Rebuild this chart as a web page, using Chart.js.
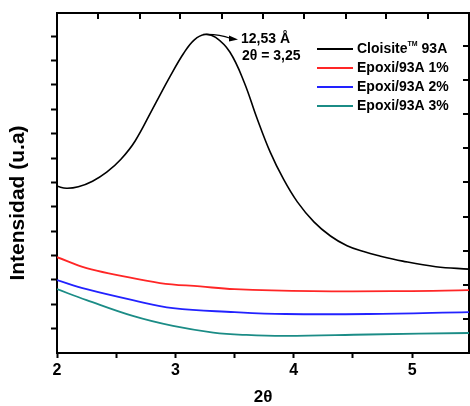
<!DOCTYPE html>
<html lang="es">
<head>
    <meta charset="UTF-8">
    <title>DRX Epoxi/93A</title>
    <script src="https://cdn.jsdelivr.net/npm/chart.js"></script>
    <style>
        body {
            margin: 0;
            padding: 0;
            background: white;
        }

        .chart-container {
            width: 470px;
            height: 406px;
        }
    </style>
</head>
<body>

    <div class="chart-container">
        <canvas id="drxChart"></canvas>
    </div>

    <script>
        // 2 theta positions and intensities
        const cloisiteX = [2.00, 2.08, 2.18, 2.30, 2.42, 2.54, 2.66, 2.81, 2.96, 3.07, 3.16, 3.25, 3.34, 3.46, 3.58, 3.69, 3.80, 3.91, 4.03, 4.17, 4.31, 4.45, 4.59, 4.71, 4.92, 5.20, 5.48];
        const cloisiteY = [6.84, 6.76, 6.82, 7.05, 7.42, 7.95, 8.70, 10.04, 11.39, 12.30, 12.85, 13.07, 12.95, 12.35, 11.12, 9.62, 8.25, 7.16, 6.20, 5.38, 4.80, 4.40, 4.16, 4.00, 3.77, 3.54, 3.44];

        const epoxi1X = [2.00, 2.25, 2.51, 2.87, 3.21, 3.50, 4.16, 4.92, 5.48];
        const epoxi1Y = [3.93, 3.48, 3.20, 2.87, 2.73, 2.62, 2.54, 2.54, 2.58];

        const epoxi2X = [2.00, 2.25, 2.64, 2.98, 3.50, 3.93, 4.63, 5.48];
        const epoxi2Y = [2.99, 2.62, 2.17, 1.84, 1.68, 1.60, 1.60, 1.68];

        const epoxi3X = [2.00, 2.25, 2.64, 2.98, 3.32, 3.60, 3.93, 4.63, 5.48];
        const epoxi3Y = [2.62, 2.17, 1.52, 1.11, 0.84, 0.74, 0.70, 0.76, 0.82];

        const seriesNames = ['Cloisite™ 93A', 'Epoxi/93A 1%', 'Epoxi/93A 2%', 'Epoxi/93A 3%'];
        const seriesColors = ['#000000', '#ff2626', '#2222ff', '#1b8c86'];

        // axis ticks
        const xTicks = [2, 2.5, 3, 3.5, 4, 4.5, 5];
        const topTicks = [2.35, 2.70, 3.04, 3.39, 3.74, 4.09, 4.44, 4.78, 5.13];
        const yTicks = [1, 2, 3, 4, 5, 6, 7, 8, 9, 10, 11, 12, 13];
        const rightTicks = [1.4, 2.8, 4.2, 5.6, 7.0, 8.4, 9.8, 11.2, 12.6];

        const xMin = 2, xMax = 5.48;
        const yMin = 0, yMax = 13.95;

        // peak annotation
        const peakAngle = 3.25;
        const peakIntensity = 13.07;
        const peakText = ['12,53 Å', '2θ = 3,25'];
        const yTitle = 'Intensidad (u.a)';

        const toPoints = (xs, ys) => xs.map((x, i) => ({ x: x, y: ys[i] }));

        const allSeries = [
            toPoints(cloisiteX, cloisiteY),
            toPoints(epoxi1X, epoxi1Y),
            toPoints(epoxi2X, epoxi2Y),
            toPoints(epoxi3X, epoxi3Y)
        ];

        const setTicks = (list) => (axis) => { axis.ticks = list.map(v => ({ value: v })); };

        const FONT = '"Liberation Sans", Arial, sans-serif';

        // legend, inner ticks, y title and peak label
        const extras = {
            id: 'extras',
            afterDraw(chart) {
                const c = chart.ctx;
                const xs = chart.scales.x;
                const ys = chart.scales.y;
                const area = chart.chartArea;
                c.save();
                c.setLineDash([]);
                c.globalAlpha = 1;

                // inward ticks on top and right frame
                c.strokeStyle = '#000000';
                c.lineWidth = 2;
                topTicks.forEach(v => {
                    const x = Math.round(xs.getPixelForValue(v));
                    c.beginPath();
                    c.moveTo(x, area.top);
                    c.lineTo(x, area.top + 6);
                    c.stroke();
                });
                rightTicks.forEach(v => {
                    const y = Math.round(ys.getPixelForValue(v));
                    c.beginPath();
                    c.moveTo(area.right, y);
                    c.lineTo(area.right - 6, y);
                    c.stroke();
                });

                // legend
                c.textBaseline = 'middle';
                c.textAlign = 'left';
                chart.data.datasets.forEach((ds, i) => {
                    const yy = 49 + i * 19;
                    c.strokeStyle = ds.borderColor;
                    c.lineWidth = 2;
                    c.beginPath();
                    c.moveTo(317, yy);
                    c.lineTo(353, yy);
                    c.stroke();
                    c.fillStyle = '#000';
                    const parts = ds.label.split('™');
                    c.font = 'bold 14px ' + FONT;
                    let x = 357;
                    c.fillText(parts[0], x, yy);
                    if (parts.length > 1) {
                        x += c.measureText(parts[0]).width;
                        c.font = 'bold 7px ' + FONT;
                        c.fillText('TM', x, yy - 5);
                        x += c.measureText('TM').width;
                        c.font = 'bold 14px ' + FONT;
                        c.fillText(parts[1], x, yy);
                    }
                });

                // peak label with arrow
                const px = xs.getPixelForValue(peakAngle);
                const py = ys.getPixelForValue(peakIntensity);
                c.strokeStyle = '#000';
                c.lineWidth = 1.2;
                c.beginPath();
                c.moveTo(px - 2, py);
                c.quadraticCurveTo(px + 12, py - 1, px + 26, py + 4);
                c.stroke();
                c.beginPath();
                c.moveTo(px + 33, py + 5);
                c.lineTo(px + 24, py + 1);
                c.lineTo(px + 24, py + 7);
                c.closePath();
                c.fillStyle = '#000';
                c.fill();
                c.font = 'bold 14px ' + FONT;
                c.fillText(peakText[0], px + 36, py + 5);
                c.fillText(peakText[1], px + 37, py + 22);

                // y axis title
                c.translate(18, 203);
                c.rotate(-Math.PI / 2);
                c.textAlign = 'center';
                c.font = 'bold 21px ' + FONT;
                c.fillText(yTitle, 0, 0);
                c.restore();
            }
        };

        const ctx = document.getElementById('drxChart').getContext('2d');

        new Chart(ctx, {
            type: 'line',
            data: {
                datasets: allSeries.map((pts, i) => ({
                    label: seriesNames[i],
                    data: pts,
                    borderColor: seriesColors[i],
                    borderWidth: i === 0 ? 1.6 : 1.8,
                    pointRadius: 0,
                    tension: 0.4,
                    fill: false
                }))
            },
            options: {
                responsive: true,
                maintainAspectRatio: false,
                animation: false,
                layout: { padding: 0 },
                plugins: {
                    legend: { display: false },
                    tooltip: { enabled: false }
                },
                scales: {
                    x: {
                        type: 'linear',
                        position: 'bottom',
                        min: xMin,
                        max: xMax,
                        afterBuildTicks: setTicks(xTicks),
                        afterFit: (axis) => { axis.height = 53; },
                        border: { display: true, color: '#000', width: 2 },
                        grid: { drawOnChartArea: false, drawTicks: true, tickLength: 5, tickWidth: 2, color: '#000' },
                        ticks: {
                            color: '#000',
                            padding: 3,
                            maxRotation: 0,
                            font: { family: 'Liberation Sans', size: 16, weight: 'bold' },
                            callback: (v) => Number.isInteger(v) ? v : ''
                        },
                        title: {
                            display: true,
                            text: '2θ',
                            color: '#000',
                            padding: { top: 0, bottom: 0 },
                            font: { family: 'Liberation Sans', size: 17, weight: 'bold', lineHeight: 1 }
                        }
                    },
                    xTop: {
                        type: 'linear',
                        position: 'top',
                        min: xMin,
                        max: xMax,
                        afterFit: (axis) => { axis.height = 13; },
                        border: { display: true, color: '#000', width: 2 },
                        grid: { display: false },
                        ticks: { display: false }
                    },
                    y: {
                        type: 'linear',
                        position: 'left',
                        min: yMin,
                        max: yMax,
                        afterBuildTicks: setTicks(yTicks),
                        afterFit: (axis) => { axis.width = 57; },
                        border: { display: true, color: '#000', width: 2 },
                        grid: { drawOnChartArea: false, drawTicks: true, tickLength: 6, tickWidth: 2, color: '#000' },
                        ticks: { display: false }
                    },
                    yRight: {
                        type: 'linear',
                        position: 'right',
                        min: yMin,
                        max: yMax,
                        afterFit: (axis) => { axis.width = 1; },
                        border: { display: true, color: '#000', width: 2 },
                        grid: { display: false },
                        ticks: { display: false }
                    }
                }
            },
            plugins: [extras]
        });
    </script>

</body>
</html>
